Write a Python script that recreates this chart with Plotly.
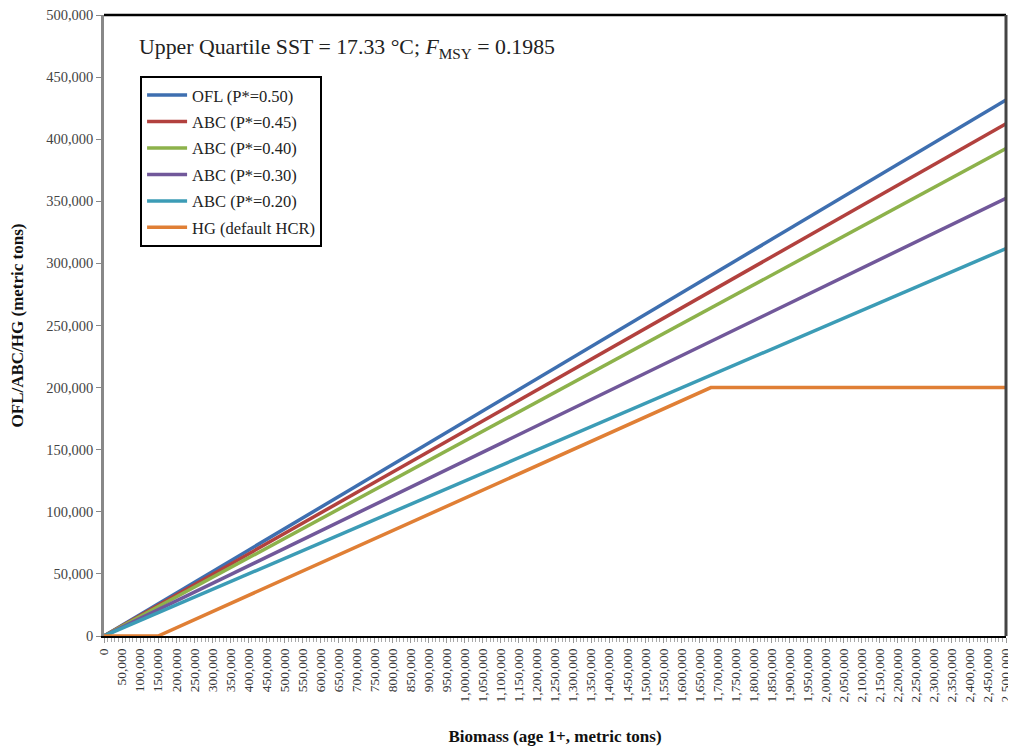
import plotly.graph_objects as go

# Data
biomass = [0, 2500000]
ofl_050 = [0, 431500]
abc_045 = [0, 412500]
abc_040 = [0, 392500]
abc_030 = [0, 352500]
abc_020 = [0, 312000]
hg_biomass = [0, 150000, 1682000, 2500000]
hg_values = [0, 0, 200000, 200000]

x_ticks = list(range(0, 2500001, 50000))
x_labels = [f"{v:,}" for v in x_ticks]

series = [
    ("OFL (P*=0.50)", biomass, ofl_050, "#3E6FB0"),
    ("ABC (P*=0.45)", biomass, abc_045, "#B2413E"),
    ("ABC (P*=0.40)", biomass, abc_040, "#8DB24B"),
    ("ABC (P*=0.30)", biomass, abc_030, "#71589A"),
    ("ABC (P*=0.20)", biomass, abc_020, "#3C9CB6"),
    ("HG (default HCR)", hg_biomass, hg_values, "#E07F35"),
]

fig = go.Figure()
for i, (name, xs, ys, col) in enumerate(series):
    fig.add_trace(go.Scatter(x=xs, y=ys, mode="lines", name=name,
                             line=dict(color=col, width=3.5),
                             legendgroup=f"g{i}"))

serif = "Liberation Serif"
fig.update_layout(
    width=1008, height=741,
    margin=dict(l=96, r=10, t=7, b=113, autoexpand=False),
    paper_bgcolor="white", plot_bgcolor="white",
    font=dict(family=serif, color="#222"),
    showlegend=True,
    legend=dict(x=0.04, y=0.902, xanchor="left", yanchor="top",
                bordercolor="black", borderwidth=2, bgcolor="white",
                font=dict(family=serif, size=16.5, color="#222"),
                tracegroupgap=2, itemwidth=40),
    xaxis=dict(range=[0, 2500000], tickvals=x_ticks, ticktext=x_labels,
               tickangle=-90, tickfont=dict(family=serif, size=13.5, color="#333"),
               ticklabeloverflow="allow",
               showgrid=False, zeroline=False, automargin=False,
               showline=True, linecolor="black", linewidth=2,
               ticks="outside", ticklen=5, tickcolor="#999",
               minor=dict(dtick=10000, ticks="outside", ticklen=4, tickcolor="#aaa"),
               title=dict(text="<b>Biomass (age 1+, metric tons)</b>",
                          font=dict(family=serif, size=17, color="#111"), standoff=29)),
    yaxis=dict(range=[0, 500000], dtick=50000, tickformat=",",
               tickfont=dict(family=serif, size=14.5, color="#444"),
               ticklabeloverflow="allow",
               showgrid=False, zeroline=False, automargin=False,
               showline=True, linecolor="#888", linewidth=2.5,
               ticks="outside", ticklen=5, tickcolor="#888",
               title=dict(text="<b>OFL/ABC/HG (metric tons)</b>",
                          font=dict(family=serif, size=17, color="#111"), standoff=20)),
    annotations=[dict(text="Upper Quartile SST = 17.33 °C; <i>F</i><sub>MSY</sub> = 0.1985",
                      xref="paper", yref="paper", x=0.037, y=0.946,
                      xanchor="left", yanchor="middle", showarrow=False,
                      font=dict(family=serif, size=21.8, color="#222"))],
    shapes=[
        dict(type="line", xref="paper", yref="paper", x0=0, x1=1, y0=1, y1=1,
             line=dict(color="black", width=2.5)),
        dict(type="line", xref="paper", yref="paper", x0=1, x1=1, y0=0, y1=1,
             line=dict(color="#444", width=3)),
    ],
)

fig.write_html("out.html")
